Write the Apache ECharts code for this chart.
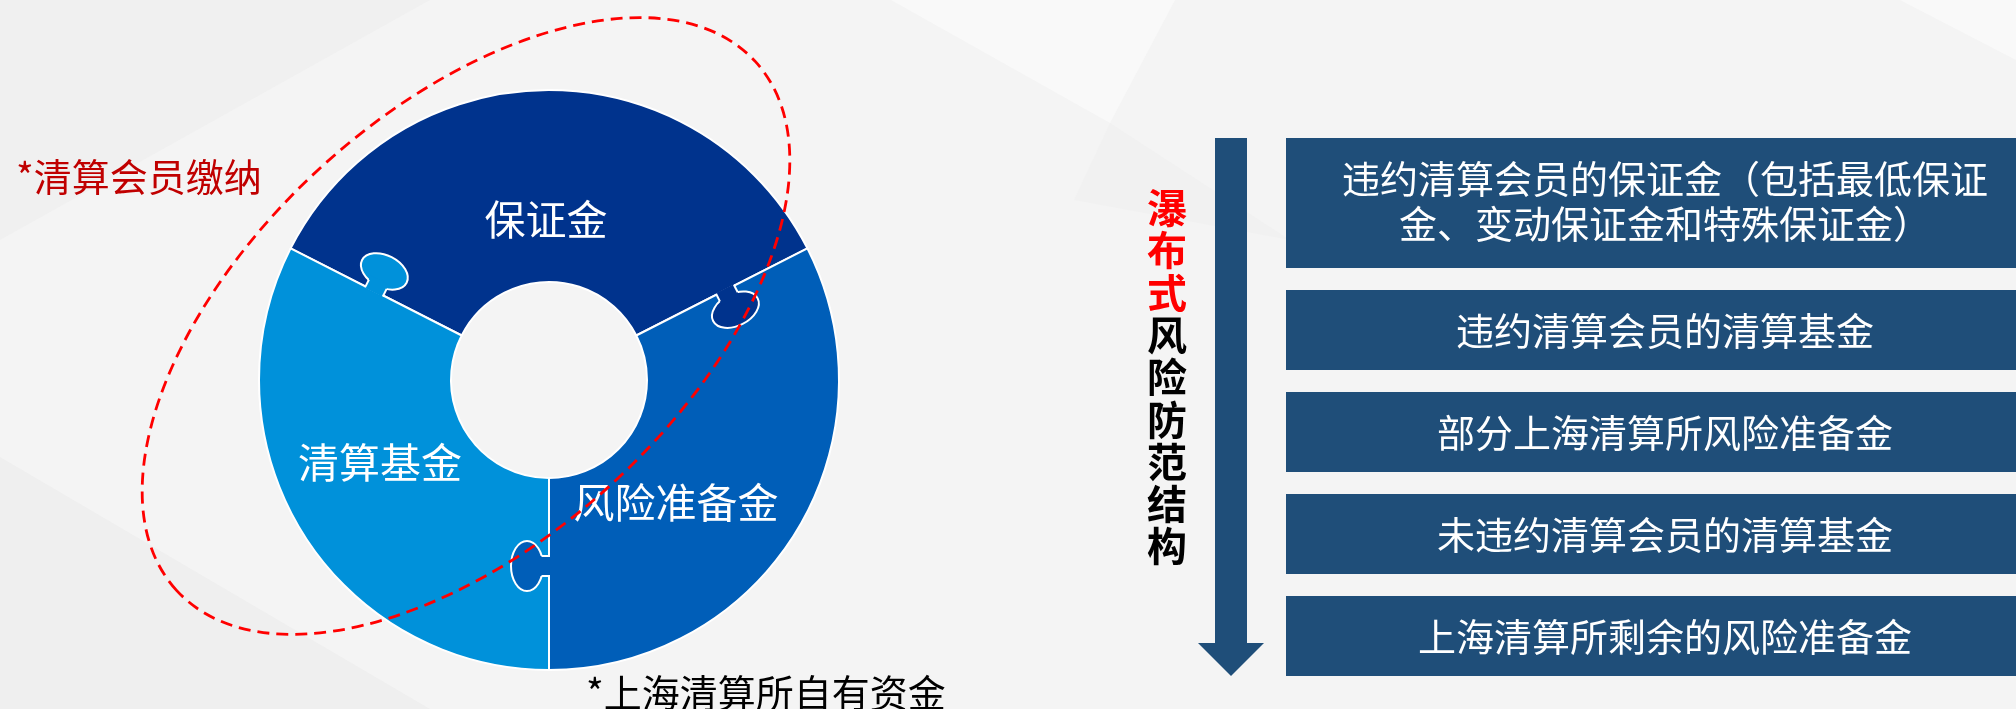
<!DOCTYPE html>
<html>
<head>
<meta charset="utf-8">
<script src="https://cdn.jsdelivr.net/npm/echarts@6/dist/echarts.min.js"></script>
<style>
html,body{margin:0;padding:0;background:#F4F4F4;}
#c{width:2016px;height:709px;}
</style>
</head>
<body>
<div id="c"></div>
<script>
// ---------- data ----------
const pieCategories = ['保证金', '风险准备金', '清算基金'];
const pieValues = [126, 117, 117];           // angular share of each piece
const pieColors = ['#00338D', '#005EB8', '#0091DA'];
const steps = [
  '违约清算会员的保证金（包括最低保证\n金、变动保证金和特殊保证金）',
  '违约清算会员的清算基金',
  '部分上海清算所风险准备金',
  '未违约清算会员的清算基金',
  '上海清算所剩余的风险准备金'
];
const titleRed = '瀑布式';
const titleBlack = '风险防范结构';
const noteMember = '*清算会员缴纳';
const noteOwn = '*上海清算所自有资金';

// ---------- layout ----------
const FONT = '"Noto Sans CJK SC", "Noto Sans", sans-serif';
const CX = 549, CY = 380, R0 = 98, R1 = 290, START = 153;
const labelPos = [[546, 219], [676, 502], [380, 462]];
const knobR = [196, 198, 186];
const stepTop = [138, 290, 392, 494, 596];
const stepH = [130, 80, 80, 80, 80];
const stepTextDy = [-2, 1, 1, 1, 1];
const BOX_X = 1286, BOX_W = 760, BOX_TX = 1665;
const STEP_COLOR = '#1F4E79';

const chart = echarts.init(document.getElementById('c'), null, {renderer: 'canvas'});

const elements = [];

// subtle background facets
const bgFacets = [
  {pts: [[0, 0], [430, 0], [0, 240]], c: '#F0F0F0'},
  {pts: [[891, 0], [1175, 0], [1110, 123]], c: '#F9F9F9'},
  {pts: [[1110, 123], [1290, 240], [1074, 200]], c: '#F1F1F1'},
  {pts: [[0, 457], [0, 709], [430, 709]], c: '#EFEFEF'},
  {pts: [[1900, 0], [2016, 0], [2016, 60]], c: '#F9F9F9'}
];
bgFacets.forEach(f => elements.push({type: 'polygon', z: -5, silent: true, shape: {points: f.pts}, style: {fill: f.c}}));

// puzzle knobs on each boundary between pieces
let acc = 0;
for (let k = 0; k < 3; k++) {
  const theta = START - acc;
  acc += pieValues[k];
  const rad = theta * Math.PI / 180;
  const col = pieColors[(k + 2) % 3];
  const r = knobR[k];
  elements.push({
    type: 'group', x: CX + r * Math.cos(rad), y: CY - r * Math.sin(rad),
    rotation: rad + Math.PI, silent: true,
    children: [
      {type: 'ellipse', z: 10, shape: {cx: 0, cy: -22, rx: 25, ry: 16}, style: {fill: col, stroke: '#fff', lineWidth: 2}},
      {type: 'rect', z: 11, shape: {x: -10, y: -12, width: 20, height: 13.5}, style: {fill: col}},
      {type: 'line', z: 12, shape: {x1: -10, y1: 1, x2: -10, y2: -7.5}, style: {stroke: '#fff', lineWidth: 2}},
      {type: 'line', z: 12, shape: {x1: 10, y1: 1, x2: 10, y2: -7.5}, style: {stroke: '#fff', lineWidth: 2}}
    ]
  });
}

// red dashed loop
elements.push({
  type: 'group', x: 466, y: 326, rotation: 42.4 * Math.PI / 180, silent: true,
  children: [{type: 'ellipse', z: 20, shape: {cx: 0, cy: 0, rx: 392, ry: 215},
    style: {fill: 'none', stroke: '#FF0000', lineWidth: 2.8, lineDash: [12, 7]}}]
});

// notes
elements.push({type: 'text', z: 20, x: 16, y: 177, silent: true,
  style: {text: noteMember, fill: '#C00000', fontSize: 38, fontFamily: FONT, align: 'left', verticalAlign: 'middle'}});
elements.push({type: 'text', z: 20, x: 586, y: 693, silent: true,
  style: {text: noteOwn, fill: '#000000', fontSize: 38, fontFamily: FONT, align: 'left', verticalAlign: 'middle'}});

// arrow
elements.push({type: 'rect', z: 5, silent: true, shape: {x: 1215, y: 138, width: 32, height: 506}, style: {fill: STEP_COLOR}});
elements.push({type: 'polygon', z: 5, silent: true, shape: {points: [[1198, 643], [1264, 643], [1231, 676]]}, style: {fill: STEP_COLOR}});

// vertical title
const titleText = titleRed.split('').map(c => '{r|' + c + '}').concat(titleBlack.split('').map(c => '{k|' + c + '}')).join('\n');
elements.push({type: 'text', z: 20, x: 1167, y: 377, silent: true,
  style: {text: titleText, align: 'center', verticalAlign: 'middle',
    rich: {
      r: {fill: '#FF0000', fontSize: 40, fontWeight: 'bold', fontFamily: FONT, lineHeight: 42.3, align: 'center'},
      k: {fill: '#000000', fontSize: 40, fontWeight: 'bold', fontFamily: FONT, lineHeight: 42.3, align: 'center'}
    }}});

// step boxes
steps.forEach((s, i) => {
  elements.push({type: 'rect', z: 5, silent: true, shape: {x: BOX_X, y: stepTop[i], width: BOX_W, height: stepH[i]}, style: {fill: STEP_COLOR}});
  elements.push({type: 'text', z: 6, silent: true, x: BOX_TX, y: stepTop[i] + stepH[i] / 2 + stepTextDy[i],
    style: {text: s, fill: '#FFFFFF', fontSize: 38, fontFamily: FONT, lineHeight: 45, align: 'center', verticalAlign: 'middle'}});
});

chart.setOption({
  backgroundColor: '#F4F4F4',
  animation: false,
  graphic: {elements: elements},
  series: [{
    type: 'pie',
    center: [CX, CY],
    radius: [R0, R1],
    startAngle: START,
    clockwise: true,
    silent: true,
    avoidLabelOverlap: false,
    itemStyle: {borderColor: '#FFFFFF', borderWidth: 2},
    label: {show: true, position: 'inside', formatter: '{b}', color: '#FFFFFF', fontSize: 41, fontFamily: FONT},
    labelLine: {show: false},
    labelLayout: function (p) {
      return {x: labelPos[p.dataIndex][0], y: labelPos[p.dataIndex][1], align: 'center', verticalAlign: 'middle'};
    },
    emphasis: {disabled: true},
    data: pieCategories.map((n, i) => ({name: n, value: pieValues[i], itemStyle: {color: pieColors[i]}}))
  }]
});
</script>
</body>
</html>
